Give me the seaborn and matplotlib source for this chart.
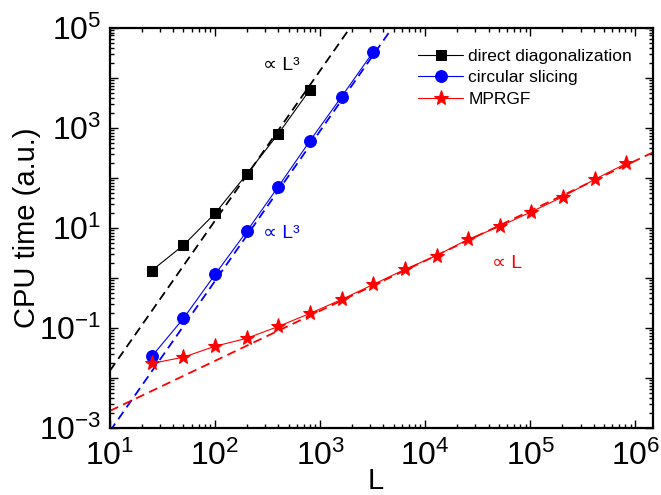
import math
import matplotlib
matplotlib.use("Agg")
import matplotlib.pyplot as plt
import matplotlib.ticker as mticker
import seaborn as sns

L_dd = [25, 50, 100, 200, 400, 800]
t_dd = [1.4, 4.5, 19.5, 118, 760, 5800]

L_cs = [25, 50, 100, 200, 400, 800, 1600, 3200]
t_cs = [0.027, 0.155, 1.17, 8.5, 67, 550, 4200, 33000]

L_mp = [25, 50, 100, 200, 400, 800, 1600, 3200, 6400, 12800, 25600,
        51200, 102400, 204800, 409600, 819200]
t_mp = [0.0195, 0.026, 0.043, 0.062, 0.107, 0.195, 0.37, 0.74, 1.48, 2.8,
        5.9, 10.7, 21, 42, 93, 195]

# guide lines (end points) for the scaling laws
fit_dd_x = [10, 1900]
fit_dd_y = [0.014, 9.6e4]
fit_cs_x = [10, 5000]
fit_cs_y = [8.7e-4, 1.09e5]
fit_mp_x = [10, 1.5e6]
fit_mp_y = [2.2e-3, 330]

labels = ["direct diagonalization", "circular slicing", "MPRGF"]

sns.set_style("ticks")
plt.rcParams["font.family"] = ["Liberation Sans", "DejaVu Sans"]
plt.rcParams["mathtext.fontset"] = "custom"
plt.rcParams["mathtext.rm"] = "Liberation Sans"
plt.rcParams["mathtext.it"] = "Liberation Sans:italic"
plt.rcParams["mathtext.bf"] = "Liberation Sans:bold"
for k in ["text.color", "axes.labelcolor", "axes.edgecolor", "xtick.color", "ytick.color"]:
    plt.rcParams[k] = "black"

fig = plt.figure(figsize=(6.61, 4.95), dpi=100)
ax = fig.add_axes([0.1664, 0.1354, 0.988 - 0.1664, 0.944 - 0.1354])

# dashed scaling guides
dash = (0, (5, 3))
sns.lineplot(x=fit_dd_x, y=fit_dd_y, color="black", linestyle=dash, linewidth=1.3, ax=ax)
sns.lineplot(x=fit_cs_x, y=fit_cs_y, color="blue", linestyle=dash, linewidth=1.3, ax=ax)
sns.lineplot(x=fit_mp_x, y=fit_mp_y, color="red", linestyle=dash, linewidth=1.3, ax=ax)

# measured data
sns.lineplot(x=L_dd, y=t_dd, color="black", marker="s", markersize=7, mec="black",
             linewidth=0.8, label=labels[0], ax=ax)
sns.lineplot(x=L_cs, y=t_cs, color="blue", marker="o", markersize=8.5, mec="blue",
             linewidth=0.8, label=labels[1], ax=ax)
sns.lineplot(x=L_mp, y=t_mp, color="red", marker="*", markersize=11, mec="red",
             linewidth=0.8, label=labels[2], ax=ax)

ax.set_xscale("log")
ax.set_yscale("log")
ax.set_xlim(10, 1.47e6)
ax.set_ylim(1e-3, 1e5)

ax.xaxis.set_major_locator(mticker.LogLocator(base=10, numticks=20))
ax.xaxis.set_minor_locator(mticker.LogLocator(base=10, subs=range(2, 10), numticks=20))
ax.yaxis.set_major_locator(mticker.LogLocator(base=10, numticks=20))
ax.yaxis.set_minor_locator(mticker.LogLocator(base=10, subs=range(2, 10), numticks=20))
ax.xaxis.set_minor_formatter(mticker.NullFormatter())
ax.yaxis.set_minor_formatter(mticker.NullFormatter())


def decade_label(v, pos):
    return r"$10^{%d}$" % round(math.log10(v))


def odd_decades(v, pos):
    e = round(math.log10(v))
    return r"$10^{%d}$" % e if e % 2 else ""


ax.xaxis.set_major_formatter(mticker.FuncFormatter(decade_label))
ax.yaxis.set_major_formatter(mticker.FuncFormatter(odd_decades))

ax.tick_params(which="both", direction="in", top=True, right=True, labelsize=23, width=1)
ax.tick_params(which="major", length=6)
ax.tick_params(which="minor", length=3)
ax.tick_params(axis="x", pad=9)
ax.tick_params(axis="y", pad=6)
for s in ax.spines.values():
    s.set_linewidth(1.6)

ax.set_ylabel("CPU time (a.u.)", fontsize=21, labelpad=-1)
ax.set_xlabel("L", fontsize=21)
ax.xaxis.set_label_coords(0.49, -0.098)

ax.annotate("∝ L³", xy=(263, 495 - 65), xycoords="figure pixels", color="black", fontsize=14, va="center")
ax.annotate("∝ L³", xy=(263, 495 - 233), xycoords="figure pixels", color="blue", fontsize=14, va="center")
ax.annotate("∝ L", xy=(492, 495 - 264), xycoords="figure pixels", color="red", fontsize=14, va="center")

ax.legend(loc="upper right", frameon=False, fontsize=12.5, handlelength=2.6,
          handletextpad=0.3, labelspacing=0.38, borderaxespad=0.8)

fig.savefig("out.png", dpi=100)
